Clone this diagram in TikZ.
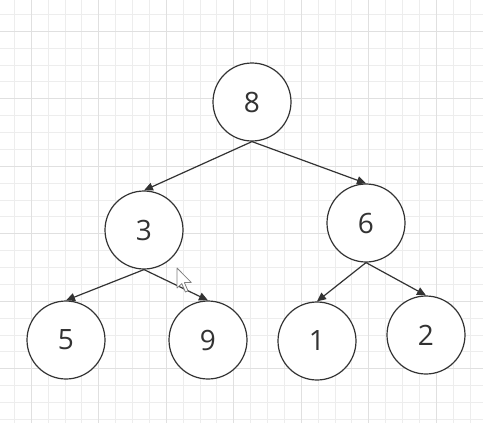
\documentclass[tikz,border=0pt]{standalone}
\usepackage{fontspec}
\setmainfont{Open Sans}
\usetikzlibrary{arrows.meta}

\definecolor{inkgray}{HTML}{333333}
\definecolor{gridminor}{HTML}{EDEDED}
\definecolor{gridmajor}{HTML}{E0E0E0}

\tikzset{
    treenode/.style={circle, draw=inkgray, line width=1.2pt, fill=white, minimum size=78pt, inner sep=0pt, text=inkgray, font=\fontsize{28}{30}\selectfont},
    edge/.style={draw=inkgray, line width=1.2pt, -{Triangle[length=9pt,width=8pt]}},
    minorline/.style={draw=gridminor, line width=0.8pt},
    majorline/.style={draw=gridmajor, line width=0.9pt}
}

\begin{document}
\begin{tikzpicture}[x=1pt, y=-1pt]
            % binary tree on a grid
            \useasboundingbox (0,0) rectangle (483,426);
            \fill[white] (0,0) rectangle (483,426);

            % grid
            \foreach \k in {0,...,27} {
                \draw[minorline] ({14.3+16.875*\k},0) -- ({14.3+16.875*\k},423);
                \draw[minorline] (0,{14.3+16.875*\k}) -- (483,{14.3+16.875*\k});
            }
            \foreach \k in {0,...,6} {
                \draw[majorline] ({31.2+67.5*\k},0) -- ({31.2+67.5*\k},423);
                \draw[majorline] (0,{31.2+67.5*\k}) -- (483,{31.2+67.5*\k});
            }

            \node[treenode] (n8) at (252,102) {8};
            \node[treenode] (n3) at (144,230) {3};
            \node[treenode] (n6) at (366,223) {6};
            \node[treenode] (n5) at (66,340) {5};
            \node[treenode] (n9) at (208,340) {9};
            \node[treenode] (n1) at (317,341) {1};
            \node[treenode] (n2) at (426,335) {2};

            \draw[edge] (n8.south) -- (n3.north);
            \draw[edge] (n8.south) -- (n6.north);
            \draw[edge] (n3.south) -- (n5.north);
            \draw[edge] (n3.south) -- (n9.north);
            \draw[edge] (n6.south) -- (n1.north);
            \draw[edge] (n6.south) -- (n2.north);

            % mouse pointer
            \draw[gray, fill=white, line width=0.8pt, line join=round, shift={(177,268)}]
                (0,0) -- (0,20) -- (4.8,15.6) -- (8.4,24) -- (11,22.8) -- (7.4,14.6) -- (14.2,14.4) -- cycle;
        \end{tikzpicture}
\end{document}
